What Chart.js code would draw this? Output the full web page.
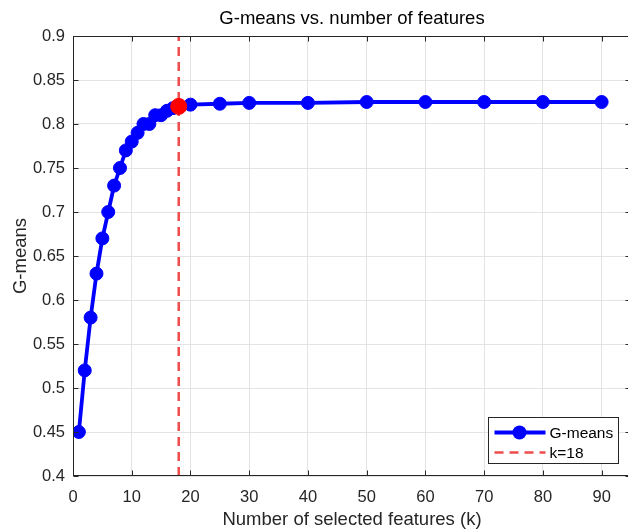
<!DOCTYPE html>
<html>
<head>
<meta charset="utf-8">
<title>G-means vs. number of features</title>
<script src="https://cdn.jsdelivr.net/npm/chart.js@4.4.1/dist/chart.umd.min.js"></script>
<style>
  html, body { margin: 0; padding: 0; background: #fff; overflow: hidden; }
  #wrap { width: 628px; height: 531px; overflow: hidden; }
</style>
</head>
<body>
<div id="wrap"><canvas id="myChart" width="640" height="531"></canvas></div>
<script>
// data
var features = [1, 2, 3, 4, 5, 6, 7, 8, 9, 10, 11, 12, 13, 14, 15, 16, 17, 18, 20, 25, 30, 40, 50, 60, 70, 80, 90];
var gmeans = [0.45, 0.52, 0.58, 0.63, 0.67, 0.70, 0.73, 0.75, 0.77, 0.78, 0.79, 0.80, 0.80, 0.81, 0.81, 0.815, 0.818, 0.82,
              0.822, 0.823, 0.824, 0.824, 0.825, 0.825, 0.825, 0.825, 0.825];
var bestK = 18;
var bestG = 0.82;

var xTicks = [0, 10, 20, 30, 40, 50, 60, 70, 80, 90];
var yTicks = [0.4, 0.45, 0.5, 0.55, 0.6, 0.65, 0.7, 0.75, 0.8, 0.85, 0.9];
var xRange = [0, 95];
var yRange = [0.4, 0.9];

var FONT = '"Liberation Sans", Arial, Helvetica, sans-serif';
var AXIS_COLOR = '#262626';

// box round the axes with inward ticks, like the original
var axesFrame = {
  id: 'axesFrame',
  afterDatasetsDraw: function (chart) {
    var ctx = chart.ctx, a = chart.chartArea;
    var xs = chart.scales.x, ys = chart.scales.y;
    var L = Math.round(a.left) + 0.5, R = Math.round(a.right) - 0.5;
    var T = Math.round(a.top) + 0.5, B = Math.round(a.bottom) - 0.5;
    ctx.save();
    ctx.strokeStyle = AXIS_COLOR;
    ctx.lineWidth = 1;
    ctx.strokeRect(L, T, R - L, B - T);
    ctx.beginPath();
    xTicks.forEach(function (v) {
      var px = Math.round(xs.getPixelForValue(v)) + 0.5;
      ctx.moveTo(px, B); ctx.lineTo(px, B - 5);
      ctx.moveTo(px, T); ctx.lineTo(px, T + 5);
    });
    yTicks.forEach(function (v) {
      var py = Math.round(ys.getPixelForValue(v)) + 0.5;
      ctx.moveTo(L, py); ctx.lineTo(L + 5, py);
      ctx.moveTo(R, py); ctx.lineTo(R - 5, py);
    });
    ctx.stroke();
    ctx.restore();
  }
};

// legend box in the lower right corner of the axes
var legendBox = {
  id: 'legendBox',
  afterDraw: function (chart) {
    var ctx = chart.ctx, a = chart.chartArea;
    var main = chart.data.datasets[1], kline = chart.data.datasets[2];
    var w = 130, h = 46;
    var x = Math.round(a.right - 13 - w) + 0.5, y = Math.round(a.bottom - 13 - h) + 0.5;
    ctx.save();
    ctx.fillStyle = '#fff';
    ctx.fillRect(x, y, w, h);
    ctx.strokeStyle = AXIS_COLOR;
    ctx.lineWidth = 1;
    ctx.strokeRect(x, y, w, h);

    // G-means entry
    var y1 = y + 15;
    ctx.strokeStyle = main.borderColor;
    ctx.lineWidth = main.borderWidth;
    ctx.beginPath(); ctx.moveTo(x + 6, y1); ctx.lineTo(x + 57, y1); ctx.stroke();
    ctx.fillStyle = main.backgroundColor;
    ctx.beginPath(); ctx.arc(x + 31, y1, main.pointRadius + 0.5, 0, Math.PI * 2); ctx.fill();

    // k=18 entry
    var y2 = y + 35;
    ctx.strokeStyle = kline.borderColor;
    ctx.lineWidth = kline.borderWidth;
    ctx.setLineDash(kline.borderDash);
    ctx.beginPath(); ctx.moveTo(x + 6, y2); ctx.lineTo(x + 57, y2); ctx.stroke();
    ctx.setLineDash([]);

    ctx.fillStyle = '#000';
    ctx.font = '15.5px ' + FONT;
    ctx.textBaseline = 'middle';
    ctx.textAlign = 'left';
    ctx.fillText(main.label, x + 61, y1 + 1);
    ctx.fillText(kline.label, x + 61, y2 + 1);
    ctx.restore();
  }
};

var element = document.getElementById('myChart').getContext('2d');

var chartData = {
  datasets: [
    {
      label: 'best k',
      data: [{ x: bestK, y: bestG }],
      showLine: false,
      pointRadius: 8,
      pointBorderWidth: 1,
      backgroundColor: '#ff0000',
      borderColor: '#ff0000'
    },
    {
      label: 'G-means',
      data: features.map(function (k, i) { return { x: k, y: gmeans[i] }; }),
      showLine: true,
      borderColor: '#0000ff',
      backgroundColor: '#0000ff',
      borderWidth: 3.8,
      pointRadius: 6.5,
      pointBorderWidth: 1
    },
    {
      label: 'k=18',
      data: [{ x: bestK, y: yRange[0] }, { x: bestK, y: yRange[1] }],
      showLine: true,
      borderColor: '#ee4d4d',
      backgroundColor: '#ee4d4d',
      borderWidth: 2.5,
      borderDash: [9, 6],
      pointRadius: 0
    }
  ]
};

var chartOptions = {
  responsive: false,
  animation: false,
  devicePixelRatio: 1,
  layout: { padding: { left: 0, right: 8.6, top: 0, bottom: 0 } },
  plugins: {
    legend: { display: false },
    tooltip: { enabled: false },
    title: {
      display: true,
      text: 'G-means vs. number of features',
      fullSize: false,
      color: '#000',
      font: { family: FONT, size: 18.5, weight: 'normal' },
      padding: { top: 8, bottom: 5.8 }
    }
  },
  scales: {
    x: {
      type: 'linear',
      min: xRange[0],
      max: xRange[1],
      afterFit: function (s) { s.height = 55; },
      afterBuildTicks: function (s) { s.ticks = xTicks.map(function (v) { return { value: v }; }); },
      grid: { color: '#e3e3e3', lineWidth: 1, drawTicks: false },
      border: { display: false },
      ticks: {
        padding: 12,
        color: AXIS_COLOR,
        font: { family: FONT, size: 16.5 },
        maxRotation: 0,
        callback: function (v) { return String(v); }
      },
      title: {
        display: true,
        text: 'Number of selected features (k)',
        color: AXIS_COLOR,
        font: { family: FONT, size: 18.5 },
        padding: { top: 0, bottom: 0 }
      }
    },
    y: {
      type: 'linear',
      min: yRange[0],
      max: yRange[1],
      afterFit: function (s) { s.width = 73; },
      afterBuildTicks: function (s) { s.ticks = yTicks.map(function (v) { return { value: v }; }); },
      grid: { color: '#e3e3e3', lineWidth: 1, drawTicks: false },
      border: { display: false },
      ticks: {
        padding: 8,
        color: AXIS_COLOR,
        font: { family: FONT, size: 16.5 },
        callback: function (v) { return String(+v.toFixed(2)); }
      },
      title: {
        display: true,
        text: 'G-means',
        color: AXIS_COLOR,
        font: { family: FONT, size: 18.5 },
        padding: { top: 10, bottom: 0 }
      }
    }
  }
};

var chart = new Chart(element, {
  type: 'scatter',
  data: chartData,
  options: chartOptions,
  plugins: [axesFrame, legendBox]
});
</script>
</body>
</html>
